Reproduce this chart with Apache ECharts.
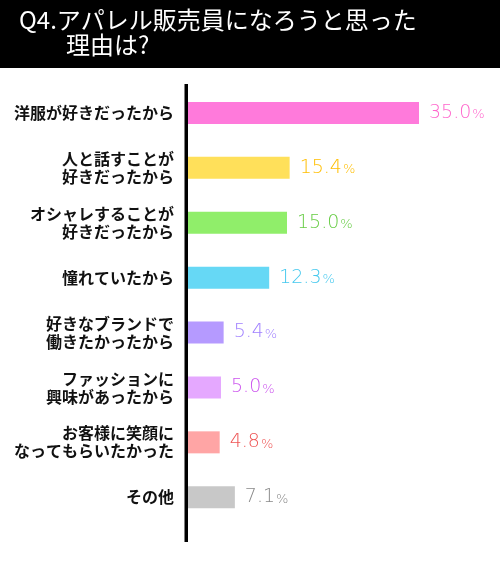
<!DOCTYPE html>
<html>
<head>
<meta charset="utf-8">
<script src="https://cdn.jsdelivr.net/npm/echarts@6/dist/echarts.min.js"></script>
<style>
  html, body { margin: 0; padding: 0; background: #fff; }
  #chart { width: 500px; height: 569px; }
</style>
</head>
<body>
<div id="chart"></div>
<script>
const categories = [
  '洋服が好きだったから',
  '人と話すことが\n好きだったから',
  'オシャレすることが\n好きだったから',
  '憧れていたから',
  '好きなブランドで\n働きたかったから',
  'ファッションに\n興味があったから',
  'お客様に笑顔に\nなってもらいたかった',
  'その他'
];
const values = [35.0, 15.4, 15.0, 12.3, 5.4, 5.0, 4.8, 7.1];
const barColors = ['#ff7adb', '#ffe05a', '#90ee6a', '#66d8f5', '#b59aff', '#e5a8ff', '#ffa5a5', '#c8c8c8'];
const labelColors = ['#ff66cc', '#ffbe00', '#66cc44', '#44c8ee', '#9f7fff', '#cc55ee', '#ee5555', '#888888'];

const chart = echarts.init(document.getElementById('chart'));

const numFont = '"DejaVu Sans ExtraLight", "DejaVu Sans Light", "DejaVu Sans"';

chart.setOption({
  animation: false,
  backgroundColor: '#fff',
  title: [
    {
      text: 'Q4.アパレル販売員になろうと思った',
      left: 19, top: 8, padding: 0,
      textStyle: { color: '#fff', fontSize: 24, fontWeight: 'normal', fontFamily: 'Noto Sans CJK JP' }
    },
    {
      text: '理由は?',
      left: 66, top: 33, padding: 0,
      textStyle: { color: '#fff', fontSize: 24, fontWeight: 'normal', fontFamily: 'Noto Sans CJK JP' }
    }
  ],
  graphic: [
    { type: 'rect', z: -1, shape: { x: 0, y: 0, width: 500, height: 68 }, style: { fill: '#000' } },
    { type: 'rect', z: 10, shape: { x: 184.5, y: 84, width: 3.5, height: 458 }, style: { fill: '#000' } }
  ],
  grid: { left: 188, right: 48, top: 85.5, height: 439.2 },
  xAxis: {
    type: 'value', min: 0, max: 40,
    show: false
  },
  yAxis: {
    type: 'category',
    data: categories,
    inverse: true,
    axisLine: { show: false },
    axisTick: { show: false },
    axisLabel: {
      margin: 14,
      color: '#111',
      fontSize: 16,
      lineHeight: 18,
      fontWeight: 'bold',
      fontFamily: 'Noto Sans CJK JP',
      align: 'right'
    }
  },
  series: [{
    type: 'bar',
    barWidth: 22,
    data: values.map((v, i) => ({
      value: v,
      itemStyle: { color: barColors[i] },
      label: {
        rich: {
          v: { color: labelColors[i], fontSize: 19, fontFamily: numFont, fontWeight: 200 },
          p: { color: labelColors[i], fontSize: 13, fontFamily: numFont, fontWeight: 200, padding: [4, 0, 0, 1] }
        }
      }
    })),
    label: {
      show: true,
      position: 'right',
      distance: 10,
      formatter: p => '{v|' + p.value.toFixed(1) + '}{p|%}'
    }
  }]
});
</script>
</body>
</html>
